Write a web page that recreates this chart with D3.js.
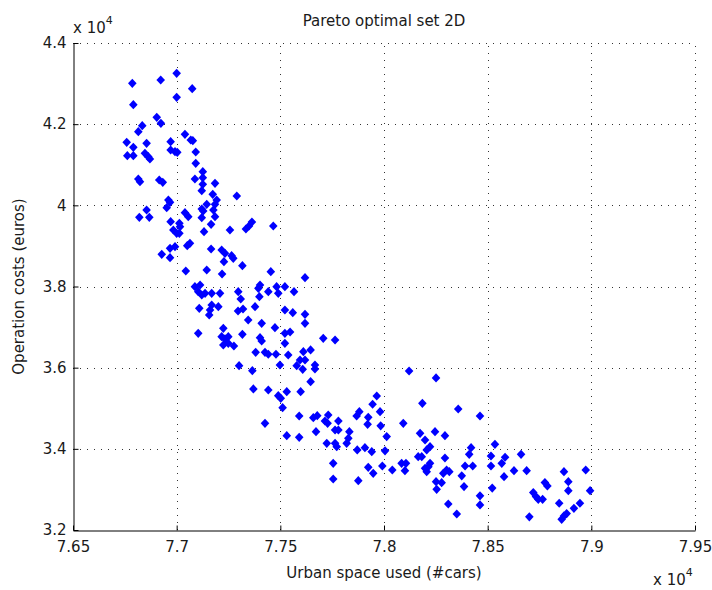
<!DOCTYPE html>
<html>
<head>
<meta charset="utf-8">
<script src="https://cdn.jsdelivr.net/npm/d3@7"></script>
<style>
  body { margin: 0; background: #fff; }
  svg text { font-family: "DejaVu Sans", sans-serif; fill: #1a1a1a; }
</style>
</head>
<body>
<svg id="chart" width="712" height="590"></svg>
<script>
// urban space used (#cars), operation costs (euros)
const paretoPoints = [
  [76786, 43007], [76923, 43088], [77000, 43253], [77075, 42874], [77000, 42662],
  [76791, 42480], [76904, 42169], [76924, 42021], [76834, 41962], [76815, 41814],
  [77040, 41750], [77068, 41610], [77078, 41593], [76759, 41553], [76791, 41430],
  [76855, 41529], [76971, 41568], [76971, 41364], [76992, 41322], [77003, 41307],
  [77092, 41314], [76762, 41223], [76791, 41223], [76847, 41282], [76863, 41198],
  [76871, 41142], [77092, 41036], [77126, 40829], [76815, 40649], [76823, 40582],
  [76916, 40624], [76933, 40568], [77088, 40649], [77126, 40681], [77126, 40518],
  [77185, 40543], [77121, 40361], [77174, 40272], [77193, 40132], [76960, 40132],
  [76968, 40075], [76952, 39942], [77145, 40026], [77185, 40026], [77121, 39910],
  [77128, 39860], [77177, 39885], [76855, 39885], [76820, 39705], [76868, 39705],
  [77040, 39819], [77056, 39720], [77121, 39696], [77185, 39720], [77166, 39533],
  [76971, 39597], [77013, 39557], [77016, 39474], [76984, 39392], [77000, 39311],
  [77013, 39311], [77132, 39350], [77257, 39392], [77064, 39065], [77051, 39005],
  [76992, 38981], [76968, 38941], [76928, 38794], [76968, 38710], [77166, 38924],
  [77217, 38899], [77233, 38818], [77228, 38611], [77044, 38382], [77145, 38407],
  [77290, 40230], [77334, 39417], [77349, 39491], [77363, 39589], [77466, 39491],
  [77265, 38759], [77273, 38695], [77317, 38513], [77454, 38365], [77219, 38308],
  [77088, 37995], [77113, 38037], [77104, 37872], [77121, 37791], [77137, 37832],
  [77169, 37832], [77209, 37832], [77297, 37872], [77402, 38037], [77394, 37956],
  [77442, 37872], [77482, 37995], [77522, 37995], [77490, 37832], [77399, 37749],
  [77309, 37692], [77109, 37463], [77169, 37544], [77161, 37421], [77201, 37502],
  [77157, 37298], [77296, 37396], [77320, 37446], [77378, 37502], [77522, 37421],
  [77345, 37175], [77410, 37093], [77474, 36985], [77225, 36970], [77104, 36847],
  [77217, 36763], [77233, 36707], [77249, 36763], [77225, 36559], [77249, 36601],
  [77276, 36534], [77317, 36822], [77402, 36738], [77410, 36657], [77522, 36847],
  [77522, 36601], [77381, 36379], [77426, 36379], [77442, 36330], [77479, 36330],
  [77538, 36312], [77498, 36066], [77301, 36049], [77365, 35926], [77619, 38217],
  [77566, 37872], [77560, 37355], [77619, 37315], [77619, 37093], [77547, 36879],
  [77707, 36724], [77764, 36682], [77611, 36394], [77646, 36436], [77595, 36189],
  [77619, 36189], [77579, 36049], [77608, 35960], [77667, 36066], [77667, 35967],
  [77646, 35654], [78121, 35918], [78251, 35746], [77370, 35475], [77442, 35450],
  [77531, 35408], [77598, 35408], [77490, 35310], [77502, 35245], [77511, 35014],
  [77591, 34809], [77659, 34767], [77678, 34817], [77715, 34686], [77728, 34629],
  [77731, 34834], [77426, 34629], [77672, 34422], [77531, 34323], [77591, 34284],
  [77724, 34136], [77965, 35302], [77945, 35098], [77981, 34915], [77881, 34915],
  [77868, 34809], [77924, 34777], [77921, 34604], [77780, 34686], [77764, 34464],
  [77780, 34464], [77833, 34422], [77828, 34260], [77820, 34136], [77764, 34136],
  [77772, 34053], [77984, 34566], [78013, 34302], [78005, 33950], [77908, 34029],
  [77871, 33972], [77941, 33930], [78093, 34629], [78185, 35122], [78174, 34383],
  [78198, 34218], [78246, 34422], [78294, 34323], [78358, 34982], [78222, 34053],
  [78206, 33972], [78165, 33806], [78182, 33806], [78294, 33774], [77755, 33644],
  [77755, 33257], [77876, 33215], [77924, 33545], [77948, 33397], [77992, 33577],
  [78040, 33479], [78085, 33644], [78106, 33644], [78101, 33461], [78198, 33520],
  [78206, 33437], [78214, 33560], [78222, 33644], [78286, 33397], [78302, 33479],
  [78315, 33437], [78251, 33190], [78278, 33166], [78254, 33003], [78310, 32641],
  [78351, 32394], [78463, 34809], [78535, 34112], [78420, 34029], [78411, 33865],
  [78516, 33824], [78584, 33792], [78661, 33865], [78391, 33577], [78428, 33577],
  [78375, 33334], [78386, 33070], [78463, 32841], [78463, 32619], [78516, 33577],
  [78568, 33644], [78579, 33313], [78627, 33461], [78688, 33461], [78522, 33032],
  [78776, 33169], [78788, 33087], [78720, 32922], [78733, 32824], [78744, 32757],
  [78765, 32757], [78701, 32324], [78845, 32659], [78868, 33437], [78889, 33190],
  [78889, 32969], [78857, 32264], [78868, 32348], [78881, 32405], [78916, 32535],
  [78945, 32659], [78973, 33479], [78994, 32969]
];

const xTicks = [76500, 77000, 77500, 78000, 78500, 79000, 79500];
const xTickLabels = ['7.65', '7.7', '7.75', '7.8', '7.85', '7.9', '7.95'];
const yTicks = [32000, 34000, 36000, 38000, 40000, 42000, 44000];
const yTickLabels = ['3.2', '3.4', '3.6', '3.8', '4', '4.2', '4.4'];

const plot = { left: 73, top: 43, right: 695, bottom: 530 };

const svg = d3.select('#chart');

const x = d3.scaleLinear()
  .domain([xTicks[0], xTicks[xTicks.length - 1]])
  .range([plot.left, plot.right]);
const y = d3.scaleLinear()
  .domain([yTicks[0], yTicks[yTicks.length - 1]])
  .range([plot.bottom, plot.top]);

// dotted grid (matlab style)
const grid = svg.append('g').attr('class', 'grid');
grid.selectAll('line.gx')
  .data(xTicks.slice(1))
  .enter()
  .append('line')
  .attr('x1', d => Math.round(x(d)) + 0.5)
  .attr('x2', d => Math.round(x(d)) + 0.5)
  .attr('y1', plot.bottom)
  .attr('y2', plot.top)
  .attr('stroke', '#333')
  .attr('stroke-dasharray', '1,6');
grid.selectAll('line.gy')
  .data(yTicks.slice(1))
  .enter()
  .append('line')
  .attr('y1', d => Math.round(y(d)) + 0.5)
  .attr('y2', d => Math.round(y(d)) + 0.5)
  .attr('x1', plot.left)
  .attr('x2', plot.right)
  .attr('stroke', '#333')
  .attr('stroke-dasharray', '1,6');

// markers
const diamond = 'M0,-4.6L4.3,0L0,4.6L-4.3,0Z';
svg.append('g')
  .selectAll('path')
  .data(paretoPoints)
  .enter()
  .append('path')
  .attr('d', diamond)
  .attr('transform', d => `translate(${x(d[0])}, ${y(d[1])})`)
  .attr('fill', '#0000ff');

// axes, ticks pointing inward
const xAxis = svg.append('g')
  .attr('transform', `translate(0, ${plot.bottom + 0.5})`)
  .call(d3.axisBottom(x)
    .tickValues(xTicks)
    .tickFormat((d, i) => xTickLabels[i])
    .tickSize(-5)
    .tickSizeOuter(0)
    .tickPadding(11));
const yAxis = svg.append('g')
  .attr('transform', `translate(${plot.left + 0.5}, 0)`)
  .call(d3.axisLeft(y)
    .tickValues(yTicks)
    .tickFormat((d, i) => yTickLabels[i])
    .tickSize(-5)
    .tickSizeOuter(0)
    .tickPadding(7));

[xAxis, yAxis].forEach(ax => {
  ax.attr('font-size', 15);
  ax.select('.domain').attr('stroke', '#000');
  ax.selectAll('.tick line').attr('stroke', '#000');
});

// exponent labels
const expTop = svg.append('text')
  .attr('x', plot.left)
  .attr('y', 33)
  .attr('font-size', 15)
  .text('x 10');
expTop.append('tspan').attr('dy', -9).attr('font-size', 11).text('4');

const expBottom = svg.append('text')
  .attr('x', 653)
  .attr('y', 585)
  .attr('font-size', 15)
  .text('x 10');
expBottom.append('tspan').attr('dy', -9).attr('font-size', 11).text('4');

// title and axis labels
svg.append('text')
  .attr('x', (plot.left + plot.right) / 2)
  .attr('y', 26)
  .attr('text-anchor', 'middle')
  .attr('font-size', 15)
  .text('Pareto optimal set 2D');

svg.append('text')
  .attr('x', (plot.left + plot.right) / 2)
  .attr('y', 578)
  .attr('text-anchor', 'middle')
  .attr('font-size', 15)
  .text('Urban space used (#cars)');

svg.append('text')
  .attr('transform', `translate(24, ${(plot.top + plot.bottom) / 2}) rotate(-90)`)
  .attr('text-anchor', 'middle')
  .attr('font-size', 15)
  .text('Operation costs (euros)');
</script>
</body>
</html>
